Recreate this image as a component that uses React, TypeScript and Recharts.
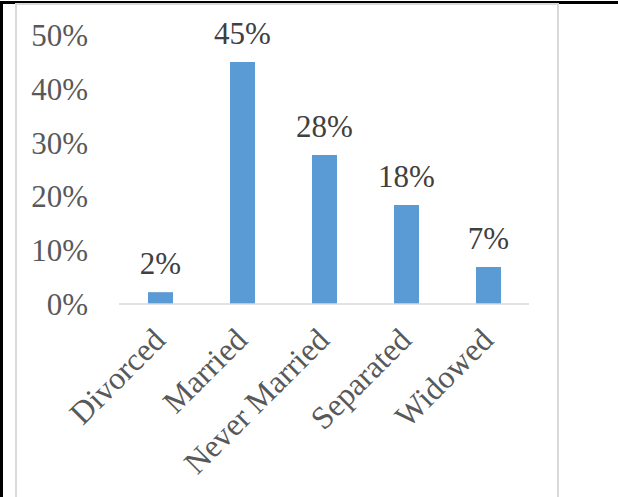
import { Bar, BarChart, LabelList, XAxis, YAxis } from "recharts";

const statuses = ["Divorced", "Married", "Never Married", "Separated", "Widowed"];
const shares = [0.022, 0.45, 0.277, 0.184, 0.069];
const yTicks = [0, 0.1, 0.2, 0.3, 0.4, 0.5];

const data = statuses.map((status, i) => ({ status, share: shares[i] }));

const FONT = "'Liberation Serif', 'Times New Roman', serif";
const pct = (v: number) => `${Math.round(v * 100)}%`;

function CategoryTick(props: any) {
    const { x, y, payload } = props;
    const px = x + 7;
    const py = y + 38;
    return (
        <text
            x={px}
            y={py}
            transform={`rotate(-45 ${px} ${py})`}
            textAnchor="end"
            fill="#595959"
            fontSize={32}
            fontFamily={FONT}
        >
            {payload.value}
        </text>
    );
}

function ValueLabel(props: any) {
    const { x, y, width, value } = props;
    return (
        <text
            x={x + width / 2}
            y={y - 18}
            textAnchor="middle"
            fill="#404040"
            fontSize={31}
            fontFamily={FONT}
        >
            {pct(value)}
        </text>
    );
}

export default function App() {
    return (
        <div
            style={{
                position: "absolute",
                left: 0,
                top: 0,
                width: 618,
                height: 497,
                overflow: "hidden",
                background: "#fff",
            }}
        >
            <div style={{ position: "absolute", left: 0, top: 1, width: 618, height: 3, background: "#000" }} />
            <div style={{ position: "absolute", left: 0, top: 1, width: 3, height: 496, background: "#000" }} />
            <div
                style={{
                    position: "absolute",
                    left: 15,
                    top: 3,
                    width: 544,
                    height: 600,
                    border: "2px solid #d9d9d9",
                    boxSizing: "border-box",
                    background: "#fff",
                }}
            />
            <div style={{ position: "absolute", left: 16, top: 5 }}>
                <BarChart
                    width={542}
                    height={492}
                    data={data}
                    margin={{ top: 30, right: 29, bottom: 0, left: 0 }}
                >
                    <XAxis
                        dataKey="status"
                        interval={0}
                        height={193}
                        tickLine={false}
                        tickSize={0}
                        tickMargin={0}
                        axisLine={{ stroke: "#d9d9d9", strokeWidth: 1.5 }}
                        tick={<CategoryTick />}
                    />
                    <YAxis
                        width={103}
                        domain={[0, 0.5]}
                        ticks={yTicks}
                        axisLine={false}
                        tickLine={false}
                        tickSize={0}
                        tickMargin={31}
                        tickFormatter={pct}
                        tick={{ fill: "#595959", fontSize: 31, fontFamily: FONT }}
                    />
                    <Bar dataKey="share" fill="#5B9BD5" barSize={25} isAnimationActive={false}>
                        <LabelList dataKey="share" content={<ValueLabel />} />
                    </Bar>
                </BarChart>
            </div>
        </div>
    );
}
